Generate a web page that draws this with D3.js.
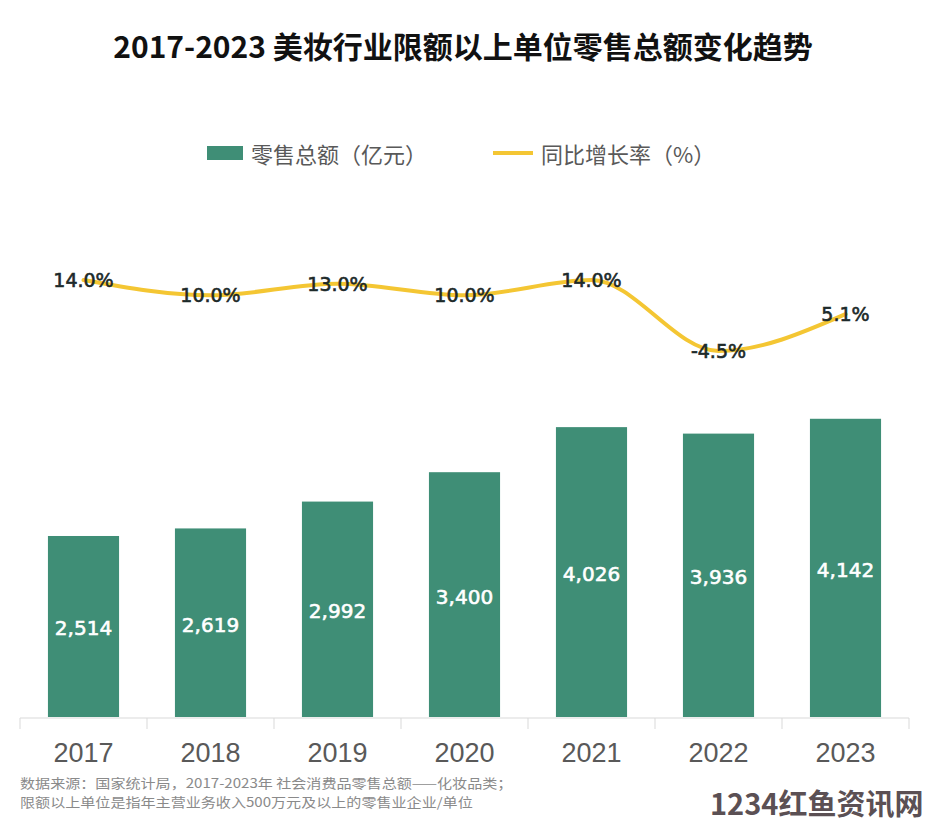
<!DOCTYPE html>
<html>
<head>
<meta charset="utf-8">
<script src="https://cdn.jsdelivr.net/npm/d3@7"></script>
<style>
  html, body { margin: 0; padding: 0; background: #fff; }
  svg { display: block; }
</style>
</head>
<body>
<div id="chart"></div>
<script>
const years = ["2017", "2018", "2019", "2020", "2021", "2022", "2023"];
const sales = [2514, 2619, 2992, 3400, 4026, 3936, 4142];
const growth = [14.0, 10.0, 13.0, 10.0, 14.0, -4.5, 5.1];
const titleText = "2017-2023 美妆行业限额以上单位零售总额变化趋势";
const legendLabels = ["零售总额（亿元）", "同比增长率（%）"];
const notes = [
  "数据来源：国家统计局，2017-2023年  社会消费品零售总额——化妆品类；",
  "限额以上单位是指年主营业务收入500万元及以上的零售业企业/单位"
];
const watermark = "1234红鱼资讯网";

const W = 925, H = 827;
const green = "#3f8e76", yellow = "#f4c633";
const cjk = "'Noto Sans CJK SC', 'Noto Sans', sans-serif";

const svg = d3.select("#chart").append("svg").attr("width", W).attr("height", H);

// Title
svg.append("text").attr("x", 463).attr("y", 58).attr("text-anchor", "middle")
  .style("font-family", cjk).style("font-size", "30px").style("font-weight", "bold")
  .attr("fill", "#111").text(titleText);

// Legend
const lg = svg.append("g");
lg.append("rect").attr("x", 207).attr("y", 146).attr("width", 36).attr("height", 14).attr("fill", green);
lg.append("text").attr("x", 251).attr("y", 153).attr("dominant-baseline", "central")
  .style("font-family", cjk).style("font-size", "22px").attr("fill", "#595959").text(legendLabels[0]);
lg.append("line").attr("x1", 493).attr("x2", 533).attr("y1", 153).attr("y2", 153)
  .attr("stroke", yellow).attr("stroke-width", 4);
lg.append("text").attr("x", 541).attr("y", 153).attr("dominant-baseline", "central")
  .style("font-family", cjk).style("font-size", "22px").attr("fill", "#595959").text(legendLabels[1]);

// Scales
const x = d3.scaleBand().domain(years).range([20, 909]).paddingInner(0.44).paddingOuter(0.22);
const yBar = d3.scaleLinear().domain([0, 6000]).range([717, 285]);
const yLine = d3.scaleLinear().domain([-4.5, 14]).range([351, 280]);

// Bars
svg.append("g").selectAll("rect").data(years).join("rect")
  .attr("x", d => x(d)).attr("width", x.bandwidth())
  .attr("y", (d, i) => yBar(sales[i])).attr("height", (d, i) => yBar(0) - yBar(sales[i]))
  .attr("fill", green);

svg.append("g").selectAll("text").data(years).join("text")
  .attr("x", d => x(d) + x.bandwidth() / 2)
  .attr("y", (d, i) => (yBar(sales[i]) + yBar(0)) / 2 + 2)
  .attr("text-anchor", "middle").attr("dominant-baseline", "central")
  .style("font-family", "'DejaVu Sans', sans-serif").style("font-size", "20px")
  .attr("fill", "#fff").attr("stroke", "#fff").attr("stroke-width", 0.6)
  .text((d, i) => d3.format(",")(sales[i]));

// Axis
const axisY = 718;
const ag = svg.append("g");
ag.append("line").attr("x1", 20).attr("x2", 909).attr("y1", axisY).attr("y2", axisY)
  .attr("stroke", "#d9d9d9").attr("stroke-width", 1);
const bounds = d3.range(years.length + 1).map(i => x.range()[0] + i * x.step());
ag.selectAll("line.tick").data(bounds).join("line").attr("class", "tick")
  .attr("x1", d => d).attr("x2", d => d).attr("y1", axisY).attr("y2", axisY + 11)
  .attr("stroke", "#d9d9d9").attr("stroke-width", 1);
ag.selectAll("text").data(years).join("text")
  .attr("x", d => x(d) + x.bandwidth() / 2).attr("y", 762).attr("text-anchor", "middle")
  .style("font-family", "'Liberation Sans', sans-serif").style("font-size", "27px")
  .attr("fill", "#595959").text(d => d);

// Line
const pts = years.map((d, i) => [x(d) + x.bandwidth() / 2, yLine(growth[i])]);
svg.append("path").datum(pts)
  .attr("d", d3.line().curve(d3.curveMonotoneX))
  .attr("fill", "none").attr("stroke", yellow).attr("stroke-width", 4).attr("stroke-linecap", "round");

svg.append("g").selectAll("text").data(years).join("text")
  .attr("x", d => x(d) + x.bandwidth() / 2)
  .attr("y", (d, i) => yLine(growth[i]))
  .attr("text-anchor", "middle").attr("dominant-baseline", "central")
  .style("font-family", "'DejaVu Sans', sans-serif").style("font-size", "19px")
  .attr("fill", "#1d2a2a").attr("stroke", "#1d2a2a").attr("stroke-width", 0.6)
  .text((d, i) => growth[i].toFixed(1) + "%");

// Notes
svg.append("g").selectAll("text").data(notes).join("text")
  .attr("transform", (d, i) => `translate(20,${788 + i * 19}) scale(1.16,1)`)
  .style("font-family", cjk).style("font-size", "13px").attr("fill", "#8a8a8a").text(d => d);

// Watermark
svg.append("text").attr("x", 710).attr("y", 815)
  .style("font-family", cjk).style("font-size", "29px").style("font-weight", "bold")
  .attr("fill", "#5b5054").text(watermark);
</script>
</body>
</html>
